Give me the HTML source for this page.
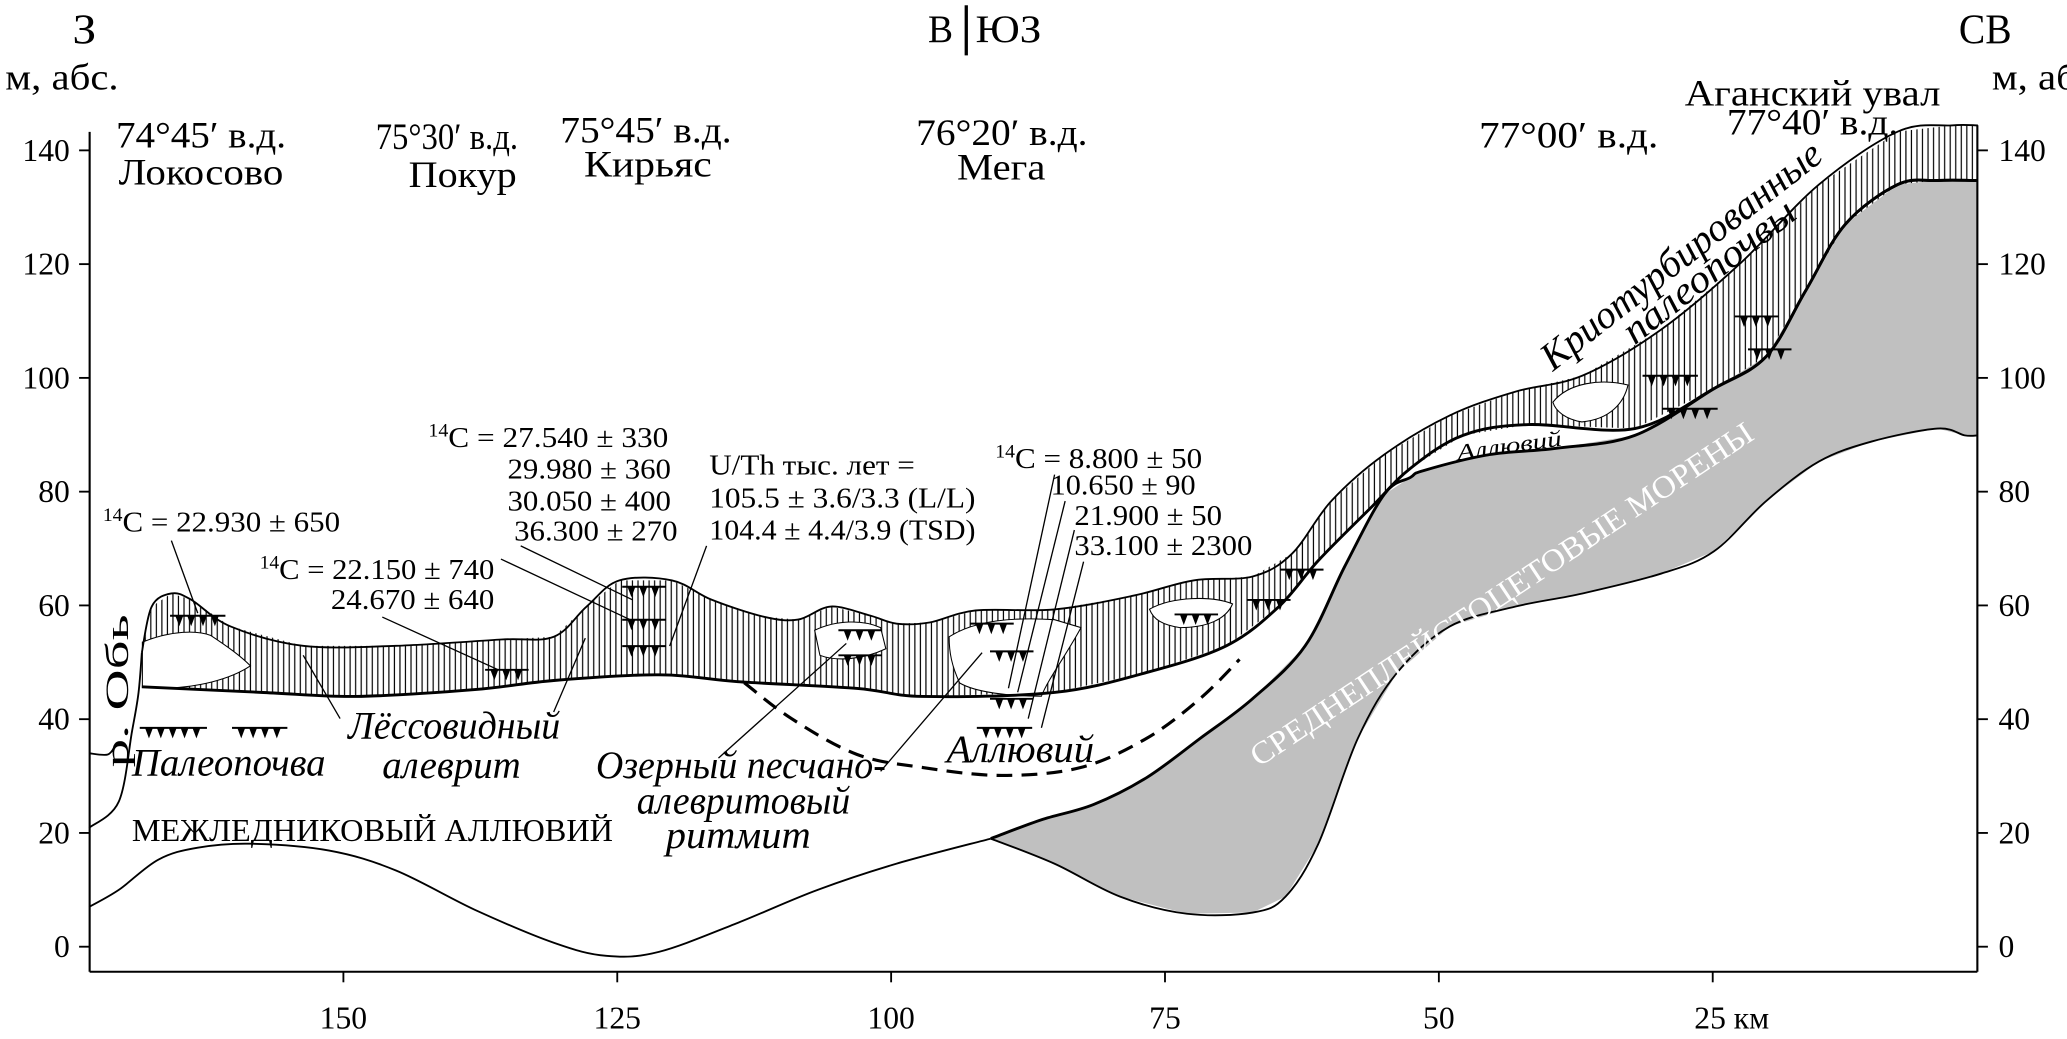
<!DOCTYPE html>
<html><head><meta charset="utf-8">
<style>
html,body{margin:0;padding:0;background:#fff;overflow:hidden;}
svg{display:block;}
text{font-family:"Liberation Serif","DejaVu Serif",serif;fill:#000;}
.it{font-style:italic;}
</style></head>
<body>
<svg id="chart" width="2067" height="1039" viewBox="0 0 1568 788" preserveAspectRatio="none" xmlns="http://www.w3.org/2000/svg">
<defs>
<pattern id="hatch" patternUnits="userSpaceOnUse" width="4.2" height="10">
<line x1="1" y1="0" x2="1" y2="10" stroke="#000" stroke-width="0.9"/>
</pattern>
</defs>
<g id="layers"></g>
<g id="axes"></g>
<g id="labels">
<text x="55" y="33" font-size="32" textLength="18" lengthAdjust="spacingAndGlyphs">З</text>
<text x="4" y="68" font-size="28" textLength="86" lengthAdjust="spacingAndGlyphs">м, абс.</text>
<text x="704" y="32" font-size="30" textLength="19" lengthAdjust="spacingAndGlyphs">В</text>
<line x1="733" y1="4" x2="733" y2="42" stroke="#000" stroke-width="2.5"/>
<text x="740" y="32" font-size="30" textLength="50" lengthAdjust="spacingAndGlyphs">ЮЗ</text>
<text x="1486" y="33" font-size="32" textLength="40" lengthAdjust="spacingAndGlyphs">СВ</text>
<text x="1511" y="68" font-size="28" textLength="86" lengthAdjust="spacingAndGlyphs">м, абс.</text>
<text x="1278" y="80" font-size="28" textLength="194" lengthAdjust="spacingAndGlyphs">Аганский увал</text>
<text x="1310" y="102" font-size="28" textLength="130" lengthAdjust="spacingAndGlyphs">77°40′ в.д.</text>
<text x="88" y="112" font-size="28" textLength="129" lengthAdjust="spacingAndGlyphs">74°45′ в.д.</text>
<text x="90" y="140" font-size="28" textLength="125" lengthAdjust="spacingAndGlyphs">Локосово</text>
<text x="285" y="113" font-size="28" textLength="108" lengthAdjust="spacingAndGlyphs">75°30′ в.д.</text>
<text x="310" y="142" font-size="28" textLength="82" lengthAdjust="spacingAndGlyphs">Покур</text>
<text x="425" y="108" font-size="28" textLength="130" lengthAdjust="spacingAndGlyphs">75°45′ в.д.</text>
<text x="443" y="134" font-size="28" textLength="97" lengthAdjust="spacingAndGlyphs">Кирьяс</text>
<text x="695" y="110" font-size="28" textLength="130" lengthAdjust="spacingAndGlyphs">76°20′ в.д.</text>
<text x="726" y="136" font-size="28" textLength="67" lengthAdjust="spacingAndGlyphs">Мега</text>
<text x="1122" y="112" font-size="28" textLength="136" lengthAdjust="spacingAndGlyphs">77°00′ в.д.</text>
<text x="1178" y="282" font-size="30" class="it" textLength="262" lengthAdjust="spacingAndGlyphs" transform="rotate(-38 1178 282)">Криотурбированные</text>
<text x="1240" y="262" font-size="30" class="it" textLength="158" lengthAdjust="spacingAndGlyphs" transform="rotate(-38 1240 262)">палеопочвы</text>
<text x="1106" y="349" font-size="17" class="it" textLength="80" lengthAdjust="spacingAndGlyphs" transform="rotate(-8 1106 349)">Аллювий</text>
<g font-size="22">
<text x="78" y="403" textLength="180" lengthAdjust="spacingAndGlyphs"><tspan font-size="14" dy="-8">14</tspan><tspan dy="8">C = 22.930 ± 650</tspan></text>
<text x="197" y="439" textLength="178" lengthAdjust="spacingAndGlyphs"><tspan font-size="14" dy="-8">14</tspan><tspan dy="8">C = 22.150 ± 740</tspan></text>
<text x="251" y="462" textLength="124" lengthAdjust="spacingAndGlyphs">24.670 ± 640</text>
<text x="325" y="339" textLength="182" lengthAdjust="spacingAndGlyphs"><tspan font-size="14" dy="-8">14</tspan><tspan dy="8">C = 27.540 ± 330</tspan></text>
<text x="385" y="363" textLength="124" lengthAdjust="spacingAndGlyphs">29.980 ± 360</text>
<text x="385" y="387" textLength="124" lengthAdjust="spacingAndGlyphs">30.050 ± 400</text>
<text x="390" y="410" textLength="124" lengthAdjust="spacingAndGlyphs">36.300 ± 270</text>
<text x="538" y="360" textLength="156" lengthAdjust="spacingAndGlyphs">U/Th тыс. лет =</text>
<text x="538" y="385" textLength="202" lengthAdjust="spacingAndGlyphs">105.5 ± 3.6/3.3 (L/L)</text>
<text x="538" y="409" textLength="202" lengthAdjust="spacingAndGlyphs">104.4 ± 4.4/3.9 (TSD)</text>
<text x="755" y="355" textLength="157" lengthAdjust="spacingAndGlyphs"><tspan font-size="14" dy="-8">14</tspan><tspan dy="8">C = 8.800 ± 50</tspan></text>
<text x="797" y="375" textLength="110" lengthAdjust="spacingAndGlyphs">10.650 ± 90</text>
<text x="815" y="398" textLength="112" lengthAdjust="spacingAndGlyphs">21.900 ± 50</text>
<text x="815" y="421" textLength="135" lengthAdjust="spacingAndGlyphs">33.100 ± 2300</text>
</g>
<g font-size="30" class="it">
<text x="100" y="588" textLength="147" lengthAdjust="spacingAndGlyphs">Палеопочва</text>
<text x="264" y="560" textLength="161" lengthAdjust="spacingAndGlyphs">Лёссовидный</text>
<text x="290" y="590" textLength="105" lengthAdjust="spacingAndGlyphs">алеврит</text>
<text x="452" y="590" textLength="220" lengthAdjust="spacingAndGlyphs">Озерный песчано-</text>
<text x="483" y="617" textLength="162" lengthAdjust="spacingAndGlyphs">алевритовый</text>
<text x="505" y="643" textLength="110" lengthAdjust="spacingAndGlyphs">ритмит</text>
<text x="718" y="578" textLength="112" lengthAdjust="spacingAndGlyphs">Аллювий</text>
</g>
<text x="100" y="638" font-size="24" textLength="365" lengthAdjust="spacingAndGlyphs">МЕЖЛЕДНИКОВЫЙ АЛЛЮВИЙ</text>
<text x="97" y="582" font-size="25" textLength="116" lengthAdjust="spacingAndGlyphs" transform="rotate(-90 97 582)">р. Обь</text>
</g>
<g id="leaders" stroke="#000" stroke-width="1">
<line x1="130" y1="410" x2="150" y2="465"/>
<line x1="290" y1="468" x2="378" y2="508"/>
<line x1="395" y1="414" x2="480" y2="455"/>
<line x1="380" y1="424" x2="478" y2="470"/>
<line x1="536" y1="414" x2="508" y2="490"/>
<line x1="258" y1="545" x2="230" y2="497"/>
<line x1="420" y1="540" x2="444" y2="484"/>
<line x1="545" y1="575" x2="642" y2="488"/>
<line x1="668" y1="585" x2="745" y2="495"/>
<line x1="800" y1="360" x2="765" y2="522"/>
<line x1="808" y1="380" x2="772" y2="525"/>
<line x1="815" y1="402" x2="780" y2="545"/>
<line x1="822" y1="426" x2="790" y2="552"/>
</g>
<g id="paleosol-marks"></g>
</svg>
<script>
// Profile data: distance (km) and elevation (m abs.)
const surfaceKm = [168.4,167.5,165.7,163.9,160.3,153.7,145.2,135.6,130.8,127.8,124.8,120.0,116.4,111.6,108.5,105.5,101.9,99.5,96.5,92.3,85.1,77.9,72.4,67.0,63.4,59.8,55.0,49.0,43.0,36.9,29.7,22.5,15.3,8.1,3.2,0.8];
const surfaceM = [51.7,59.8,62.1,61.0,56.3,52.9,52.9,54.0,54.5,59.8,64.4,64.4,61.0,58.0,57.5,59.8,58.2,56.8,57.0,59.1,59.3,61.7,64.4,65.1,69.1,78.4,86.5,93.4,97.6,100.4,108.5,120.1,134.0,143.3,144.4,144.4];
const loessBaseKm = [168.4,157.3,148.9,138.0,130.8,121.2,114.0,103.1,97.1,85.1,76.7,69.4,64.6,61.0,56.2,52.6,47.8,41.8,32.1,24.9,20.1,16.5,12.9,8.1,4.5,0.8];
const loessBaseM = [45.7,44.7,44.0,45.2,46.8,47.8,46.6,45.4,44.0,44.7,48.2,52.9,59.8,67.9,77.2,84.1,89.9,91.8,91.1,98.1,103.8,115.4,127.0,134.0,134.7,134.7];
const moraineTopKm = [90.9,86.3,81.5,76.7,71.8,67.0,62.2,58.6,55.0,52.6,51.4,45.4,39.4,32.1,24.9,20.1,16.5,12.9,8.1,4.5,0.8];
const moraineTopM = [19.0,22.3,25.0,29.7,36.6,43.6,52.9,66.8,79.5,82.5,83.7,86.5,87.6,89.9,98.1,103.8,115.4,127.0,134.0,134.7,134.7];
const moraineBaseKm = [90.9,85.1,79.1,73.0,67.0,64.0,61.0,57.4,53.8,49.0,43.0,36.9,29.7,24.9,20.1,15.3,10.5,4.5,2.0,0.8];
const moraineBaseM = [19.0,14.6,8.8,5.8,6.0,8.8,18.1,36.6,48.2,56.3,59.8,62.1,65.6,69.5,78.4,85.3,88.8,91.1,89.9,89.9];
const alluviumBaseKm = [173.2,170.5,166.9,163.3,158.5,151.3,145.2,138.0,130.8,126.0,121.2,114.0,106.7,99.5,90.9];
const alluviumBaseM = [7.0,10.0,15.3,17.4,18.1,16.9,13.4,6.5,0.7,-1.6,-0.9,4.2,10.0,14.6,19.0];
const lakeBaseKm = [113.4,109.1,103.1,97.1,89.9,82.7,76.7,71.8,68.2];
const lakeBaseM = [46.4,40.1,33.8,31.5,30.1,31.5,36.6,43.6,50.5];
const bankKm = [173.2,170.5,169.3,168.7,168.4];
const bankM = [20.9,25.5,37.8,44.7,51.7];
const waterKm = [173.2,171.5,170.8];
const waterM = [34.0,33.8,35.5];
const yTicks = [0,20,40,60,80,100,120,140];
const xTicks = [150,125,100,75,50,25];
const xTickLabels = ["150","125","100","75","50","25 км"];

const NS = "http://www.w3.org/2000/svg";
function X(km){ return 676 + (100 - km) * 8.31; }
function Y(m){ return 718 - m * 4.314; }
function pts(kms, ms){ return kms.map((k,i)=>X(k).toFixed(1)+","+Y(ms[i]).toFixed(1)); }
function smooth(kms, ms){
  const p = kms.map((k,i)=>[X(k),Y(ms[i])]);
  let d = "M"+p[0][0].toFixed(1)+","+p[0][1].toFixed(1);
  for(let i=0;i<p.length-1;i++){
    const p0=p[Math.max(0,i-1)],p1=p[i],p2=p[i+1],p3=p[Math.min(p.length-1,i+2)];
    const c1x=p1[0]+(p2[0]-p0[0])/6,c1y=p1[1]+(p2[1]-p0[1])/6;
    const c2x=p2[0]-(p3[0]-p1[0])/6,c2y=p2[1]-(p3[1]-p1[1])/6;
    d+=" C"+c1x.toFixed(1)+","+c1y.toFixed(1)+" "+c2x.toFixed(1)+","+c2y.toFixed(1)+" "+p2[0].toFixed(1)+","+p2[1].toFixed(1);
  }
  return d;
}
function mk(tag, attrs, parent){
  const e=document.createElementNS(NS,tag);
  for(const k in attrs) e.setAttribute(k,attrs[k]);
  parent.appendChild(e); return e;
}
const layers=document.getElementById("layers");
const axes=document.getElementById("axes");

const rk=moraineBaseKm.slice().reverse(), rm=moraineBaseM.slice().reverse();
const mor=mk("polygon",{points:pts(moraineTopKm,moraineTopM).concat(pts(rk,rm)).join(" "),fill:"#c0c0c0",stroke:"none"},layers);


const lk=loessBaseKm.slice().reverse(), lm=loessBaseM.slice().reverse();
const band=mk("polygon",{points:pts(surfaceKm,surfaceM).concat(pts(lk,lm)).join(" "),fill:"url(#hatch)",stroke:"none"},layers);



const lensList=[
 "M108,487 C130,478 150,478 160,482 C172,490 182,497 190,505 C175,515 150,522 120,522 L108,521 Z",
 "M618,478 C635,470 655,470 668,476 L672,492 C655,500 635,502 622,497 Z",
 "M720,483 C740,470 770,468 800,470 L820,476 C810,495 795,515 790,528 C765,528 740,525 728,518 C722,505 720,495 720,483 Z",
 "M872,462 C890,452 920,452 935,458 C930,470 915,476 895,476 C882,474 875,470 872,462 Z",
 "M1178,305 C1190,290 1215,287 1235,292 C1232,305 1222,318 1200,320 C1188,318 1180,312 1178,305 Z"
];
lensList.forEach((d,i)=>{
 const e=mk("path",{d:d,fill:"#fff",stroke:"#000","stroke-width":"0.8"},layers);
 
 
});

function line(kms,ms,name,w,dash){
 const e=mk("path",{d:smooth(kms,ms),fill:"none",stroke:"#000","stroke-width":w},layers);
 if(dash) e.setAttribute("stroke-dasharray",dash);
 
 
}
line(surfaceKm,surfaceM,'surface-line',1.4);
line(loessBaseKm,loessBaseM,'loess-base-line',2.2);
line(moraineTopKm,moraineTopM,'moraine-top-line',2.2);
line(moraineBaseKm,moraineBaseM,'moraine-base-line',1.4);
line(alluviumBaseKm,alluviumBaseM,'interglacial-alluvium-base-line',1.4);
line(lakeBaseKm,lakeBaseM,'lake-rhythmite-base-line',2.4,"12,7");
line(bankKm,bankM,'ob-river-bank-line',1.4);
line(waterKm,waterM,'ob-river-water-line',1.4);

const ml=mk("text",{x:955,y:582,"font-size":24,textLength:452,lengthAdjust:"spacingAndGlyphs",transform:"rotate(-33.5 955 582)",style:"fill:#fff"},layers);
ml.textContent="СРЕДНЕПЛЕЙСТОЦЕТОВЫЕ МОРЕНЫ";



const ax=mk("line",{x1:68,y1:100,x2:68,y2:737,stroke:"#000","stroke-width":1.6},axes);


const ax2=mk("line",{x1:1500,y1:95,x2:1500,y2:737,stroke:"#000","stroke-width":1.6},axes);


const ax3=mk("line",{x1:68,y1:737,x2:1500,y2:737,stroke:"#000","stroke-width":1.6},axes);


yTicks.forEach(v=>{
 const y=Y(v);
 const t1=mk("line",{x1:60,y1:y,x2:68,y2:y,stroke:"#000","stroke-width":1.4},axes);
 
 
 const t2=mk("line",{x1:1500,y1:y,x2:1508,y2:y,stroke:"#000","stroke-width":1.4},axes);
 
 
 const l1=mk("text",{x:53,y:y+8,"font-size":24,"text-anchor":"end"},axes);
 l1.textContent=String(v);
 
 
 const l2=mk("text",{x:1516,y:y+8,"font-size":24},axes);
 l2.textContent=String(v);
 
 
});
xTicks.forEach((v,i)=>{
 const x=X(v);
 const t=mk("line",{x1:x,y1:737,x2:x,y2:745,stroke:"#000","stroke-width":1.4},axes);
 
 
 const last=i===xTicks.length-1;
 const l=mk("text",{x:last?x-14:x,y:780,"font-size":24,"text-anchor":last?"start":"middle"},axes);
 l.textContent=xTickLabels[i];
 
 
});

const marks=document.getElementById("paleosol-marks");
const markRows=[[133,467,4],[110,552,5],[180,552,4],[372,508,3],[476,470,3],[476,490,3],[476,445,3],[640,478,3],[640,497,3],[740,473,3],[755,494,3],[755,530,3],[745,552,4],[895,466,3],[950,455,3],[975,432,3],[1250,285,4],[1265,310,4],[1320,240,3],[1330,265,3]];
markRows.forEach((r,j)=>{
 const g=mk("g",{},marks);
 
 
 mk("line",{x1:r[0]-4,y1:r[1],x2:r[0]+r[2]*9+2,y2:r[1],stroke:"#000","stroke-width":1.5},g);
 for(let k=0;k<r[2];k++){
  const x=r[0]+k*9;
  mk("polygon",{points:(x)+","+r[1]+" "+(x+6)+","+r[1]+" "+(x+3)+","+(r[1]+8),fill:"#000"},g);
 }
});
</script>
</body></html>
